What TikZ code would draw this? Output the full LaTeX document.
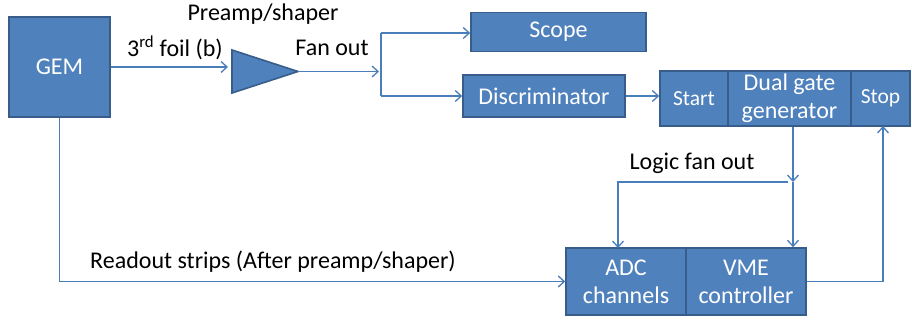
\documentclass[tikz,border=0pt]{standalone}
\usepackage{fontspec}
\setmainfont{Carlito}
\usetikzlibrary{arrows.meta,calc}
\definecolor{boxfill}{HTML}{4F81BD}
\definecolor{boxedge}{HTML}{385D8A}
\definecolor{wire}{HTML}{4A7EBB}
\begin{document}
\begin{tikzpicture}[x=1pt,y=-1pt,
  blk/.style={draw=boxedge,fill=boxfill,line width=1.6pt,text=white,inner sep=0pt,
    font=\fontsize{24}{28}\selectfont,align=center},
  smallblk/.style={blk,font=\fontsize{21.5}{26}\selectfont},
  lbl/.style={text=black,inner sep=0pt,font=\fontsize{24}{28}\selectfont},
  wirestyle/.style={draw=wire,line width=1.3pt},
  arr/.style={wirestyle,-{Straight Barb[length=6pt,width=11pt,line width=1.3pt]}}]
\useasboundingbox (0,0) rectangle (912,320);

% detector
\node[blk,minimum width=101pt,minimum height=100pt] (gem) at (59.5,67) {GEM};

% preamp/shaper triangle
\filldraw[draw=boxedge,fill=boxfill,line width=1.6pt] (232,50) -- (298,71.5) -- (232,93) -- cycle;
\coordinate (ampin) at (232,67);
\coordinate (ampout) at (298,71.5);

% fan-out split
\coordinate (fanM) at (381,71.5);
\coordinate (fanT) at (381,33);
\coordinate (fanB) at (381,96);

% modules
\node[blk,minimum width=175pt,minimum height=39pt] (scope) at (558.5,32) {Scope};
\node[blk,minimum width=162pt,minimum height=42pt] (disc) at (544,96) {Discriminator};
\node[smallblk,minimum width=68pt,minimum height=55pt] (start) at (694,98.5) {Start};
\node[blk,minimum width=123pt,minimum height=55pt] (dual) at (789.5,98.5) {Dual gate\\generator};
\node[smallblk,minimum width=59pt,minimum height=55pt] (stop) at (880.5,98.5) {Stop};
\node[blk,minimum width=120pt,minimum height=67pt] (adc) at (626,281.5) {ADC\\channels};
\node[blk,minimum width=120pt,minimum height=67pt] (vme) at (746,281.5) {VME\\controller};

% logic fan-out point and routing corners
\coordinate (lfo) at (793,182);
\coordinate (lfoL) at (788,182);
\coordinate (adcin) at (618,248);
\coordinate (stopin) at (883,126);

% labels
\node[lbl] (lpre) at (263,14) {Preamp/shaper};
\node[lbl] (lfoil) at (175,48) {3\textsuperscript{rd} foil (b)};
\node[lbl] (lfan) at (332,48) {Fan out};
\node[lbl] (lread) at (273,262) {Readout strips (After preamp/shaper)};
\node[lbl] (llogic) at (692,163) {Logic fan out};

% connections
\draw[arr,shorten >=4pt] (gem.east |- ampin) -- (ampin);
\draw[arr,shorten >=2pt] (ampout) -- (fanM);
\draw[wirestyle] (fanT) -- (fanB);
\draw[arr] (fanT) -- (scope.west |- fanT);
\draw[arr] (fanB) -- (disc.west |- fanB);
\draw[arr] (disc.east) -- (start.west |- disc.east);
\draw[arr] (dual.south -| lfo) -- (lfo);
\draw[arr] (lfo) -- (vme.north -| lfo);
\draw[arr] (lfoL) -| (adcin);
\draw[arr] (gem.south) |- (adc.west);
\draw[arr] (vme.east) -| (stopin);
\end{tikzpicture}
\end{document}
